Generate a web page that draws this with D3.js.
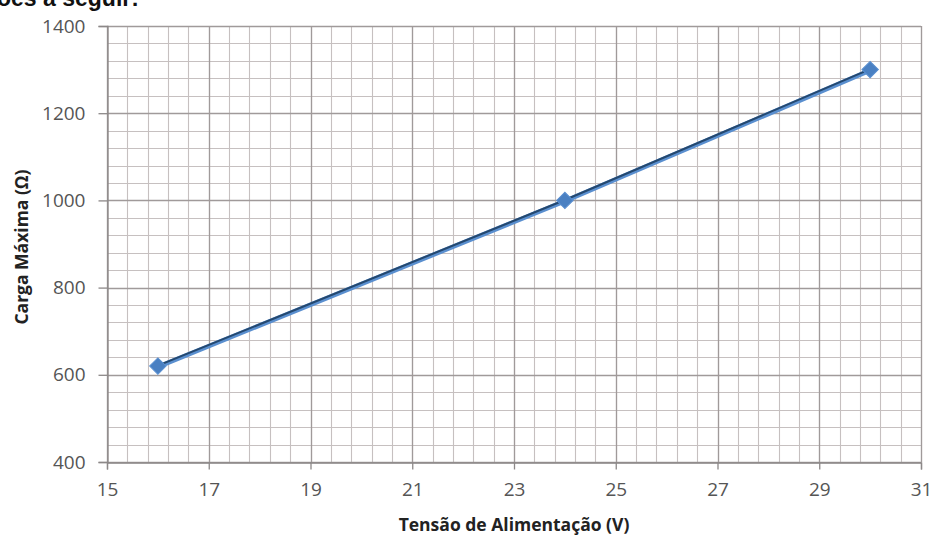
<!DOCTYPE html>
<html><head><meta charset="utf-8">
<script src="https://cdn.jsdelivr.net/npm/d3@7"></script>
<style>
html,body{margin:0;padding:0;background:#fff;}
svg{display:block;}
</style></head>
<body>
<script>
// Data
const voltages = [16, 24, 30];
const loads = [620, 1000, 1300];
const xTicks = [15, 17, 19, 21, 23, 25, 27, 29, 31];
const yTicks = [400, 600, 800, 1000, 1200, 1400];
const xLabel = "Tensão de Alimentação (V)";
const yLabel = "Carga Máxima (Ω)";
const headText = "ões a seguir:";

const W = 942, H = 555;
const m = {left: 107, right: 21, top: 26, bottom: 93};
const svg = d3.select("body").append("svg").attr("width", W).attr("height", H);

const x = d3.scaleLinear().domain([15, 31]).range([m.left, W - m.right]);
const y = d3.scaleLinear().domain([400, 1400]).range([H - m.bottom, m.top]);

// cropped heading text (cut at the top edge as in the reference)
svg.append("text").attr("x", -3).attr("y", 6)
  .attr("font-family", "Liberation Sans, Arial, sans-serif")
  .attr("font-weight", "bold").attr("font-size", 23).attr("fill", "#111")
  .text(headText);

const g = svg.append("g");
// minor gridlines
const xMinor = d3.range(15, 31.001, 0.4);
const yMinor = d3.range(400, 1400.1, 40);
g.selectAll(".vx").data(xMinor).join("line")
  .attr("x1", d => Math.round(x(d)) + 0.5).attr("x2", d => Math.round(x(d)) + 0.5)
  .attr("y1", y(400)).attr("y2", y(1400))
  .attr("stroke", "#c6c0c0").attr("stroke-width", 1.1);
g.selectAll(".hy").data(yMinor).join("line")
  .attr("y1", d => Math.round(y(d)) + 0.5).attr("y2", d => Math.round(y(d)) + 0.5)
  .attr("x1", x(15)).attr("x2", x(31))
  .attr("stroke", "#c6c0c0").attr("stroke-width", 1.1);
// major gridlines
g.selectAll(".vX").data(xTicks).join("line")
  .attr("x1", d => Math.round(x(d)) + 0.5).attr("x2", d => Math.round(x(d)) + 0.5)
  .attr("y1", y(400)).attr("y2", y(1400))
  .attr("stroke", "#a09a9a").attr("stroke-width", 1.3);
g.selectAll(".hY").data(yTicks).join("line")
  .attr("y1", d => Math.round(y(d)) + 0.5).attr("y2", d => Math.round(y(d)) + 0.5)
  .attr("x1", x(15)).attr("x2", x(31))
  .attr("stroke", "#a09a9a").attr("stroke-width", 1.3);

// axes
const tickFont = "Open Sans, sans-serif";
const xAxis = svg.append("g").attr("transform", `translate(0,${Math.round(y(400)) + 0.5})`)
  .call(d3.axisBottom(x).tickValues(xTicks).tickSize(7).tickPadding(13).tickFormat(d3.format("d")));
const yAxis = svg.append("g").attr("transform", `translate(${Math.round(x(15)) + 0.5},0)`)
  .call(d3.axisLeft(y).tickValues(yTicks).tickSize(9).tickPadding(13).tickFormat(d3.format("d")));
[xAxis, yAxis].forEach(a => {
  a.select(".domain").attr("stroke", "#8c8888").attr("stroke-width", 1.3);
  a.selectAll(".tick line").attr("stroke", "#8c8888").attr("stroke-width", 1.3);
  a.selectAll(".tick text").attr("fill", "#555").attr("font-family", tickFont).attr("font-size", 19);
});

// line
const line = d3.line().x((d, i) => x(voltages[i])).y(d => y(d));
svg.append("path").datum(loads).attr("d", line)
  .attr("fill", "none").attr("stroke", "#5a8fcf").attr("stroke-width", 4.5)
  .attr("transform", "translate(0,0.8)");
svg.append("path").datum(loads).attr("d", line)
  .attr("fill", "none").attr("stroke", "#24486f").attr("stroke-width", 2)
  .attr("transform", "translate(0,-0.4)");

// markers (diamonds = rotated squares)
svg.selectAll(".mk").data(loads).join("path")
  .attr("d", d3.symbol().type(d3.symbolSquare).size(135))
  .attr("transform", (d, i) => `translate(${x(voltages[i])},${y(d)}) rotate(45)`)
  .attr("fill", "#4a80c2").attr("stroke", "#5a8fd0").attr("stroke-width", 1);

// axis labels
svg.append("text").attr("x", (x(15) + x(31)) / 2).attr("y", 531)
  .attr("text-anchor", "middle").attr("font-family", "Open Sans, sans-serif")
  .attr("font-weight", "bold").attr("font-size", 17.5).attr("fill", "#222")
  .text(xLabel);
svg.append("text").attr("transform", "translate(28,247) rotate(-90)")
  .attr("text-anchor", "middle").attr("font-family", "Open Sans, sans-serif")
  .attr("font-weight", "bold").attr("font-size", 17.5).attr("fill", "#222")
  .text(yLabel);
</script>
</body></html>
